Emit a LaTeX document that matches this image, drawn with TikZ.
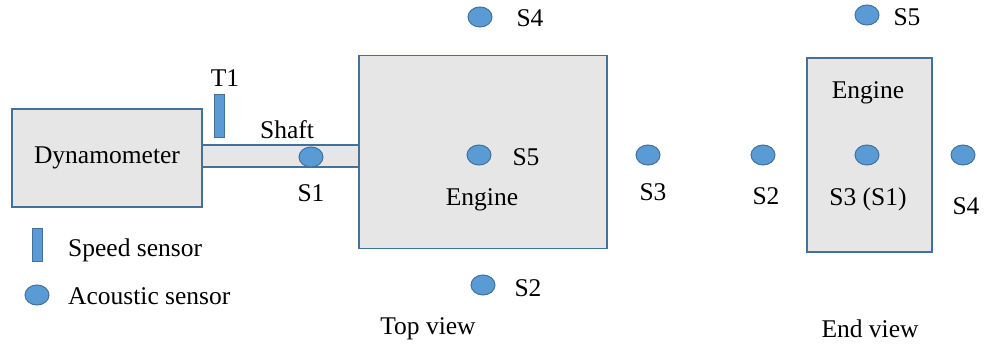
\documentclass[tikz,border=0pt]{standalone}
\usepackage{fontspec}
\setmainfont{Liberation Serif}
\usetikzlibrary{shapes.geometric}
\definecolor{boxfill}{HTML}{E6E6E6}
\definecolor{boxline}{HTML}{41719C}
\definecolor{sensfill}{HTML}{5B9BD5}
\tikzset{
  box/.style={draw=boxline, fill=boxfill, line width=1.8pt, rectangle, inner sep=0pt},
  acoustic/.style={draw=boxline, fill=sensfill, line width=1pt, ellipse, inner sep=0pt,
    minimum width=24pt, minimum height=20pt},
  speed/.style={draw=boxline, fill=sensfill, line width=1pt, rectangle, inner sep=0pt,
    minimum width=10pt},
  lbl/.style={inner sep=0pt, font=\fontsize{25.5}{29}\selectfont},
  lbll/.style={lbl, anchor=west},
}
\begin{document}
\begin{tikzpicture}[x=1pt, y=-1pt]
\useasboundingbox (0,0) rectangle (984,350);

% ---- top view ----
\node[box, minimum width=157pt, minimum height=22pt] (shaft) at (280.5,156) {};
\node[box, minimum width=190pt, minimum height=98pt] (dyn) at (107,158) {};
\node[lbl] (dyntext) at (107,158) {Dynamometer};
\node[box, minimum width=248pt, minimum height=193pt] (eng) at (483,152) {};
\node[lbl] (engtext) at (482,200) {Engine};

\node[speed, minimum height=42pt] (t1) at (219,116) {};
\node[lbl] (t1text) at (225,78) {T1};
\node[lbl] (shafttext) at (287,130) {Shaft};

\node[acoustic] (s1) at (311,157) {};
\node[lbl] (s1text) at (311,193) {S1};
\node[acoustic] (s5) at (479,155) {};
\node[lbl] (s5text) at (526,157) {S5};
\node[acoustic] (s4) at (480,17) {};
\node[lbl] (s4text) at (530,18) {S4};
\node[acoustic] (s3) at (648,155) {};
\node[lbl] (s3text) at (653,192) {S3};
\node[acoustic] (s2) at (483,285) {};
\node[lbl] (s2text) at (528,288) {S2};
\node[lbl] (topview) at (428,329) {Top view};

% ---- end view ----
\node[box, minimum width=125pt, minimum height=194pt] (engend) at (869.5,155) {};
\node[lbl] (engendtext) at (868,93) {Engine};
\node[acoustic] (e3) at (867,155) {};
\node[lbl] (e3text) at (868,199) {S3 (S1)};
\node[acoustic] (e2) at (763,155) {};
\node[lbl] (e2text) at (766,196) {S2};
\node[acoustic] (e4) at (963,155) {};
\node[lbl] (e4text) at (966,206) {S4};
\node[acoustic] (e5) at (867,15) {};
\node[lbl] (e5text) at (907,17) {S5};
\node[lbl] (endview) at (870,329) {End view};

% ---- legend ----
\node[speed, minimum height=33pt] (legspeed) at (37,244.5) {};
\node[lbll] (legspeedtext) at (68,250) {Speed sensor};
\node[acoustic] (legac) at (37,295) {};
\node[lbll] (legactext) at (68,296) {Acoustic sensor};
\end{tikzpicture}
\end{document}
